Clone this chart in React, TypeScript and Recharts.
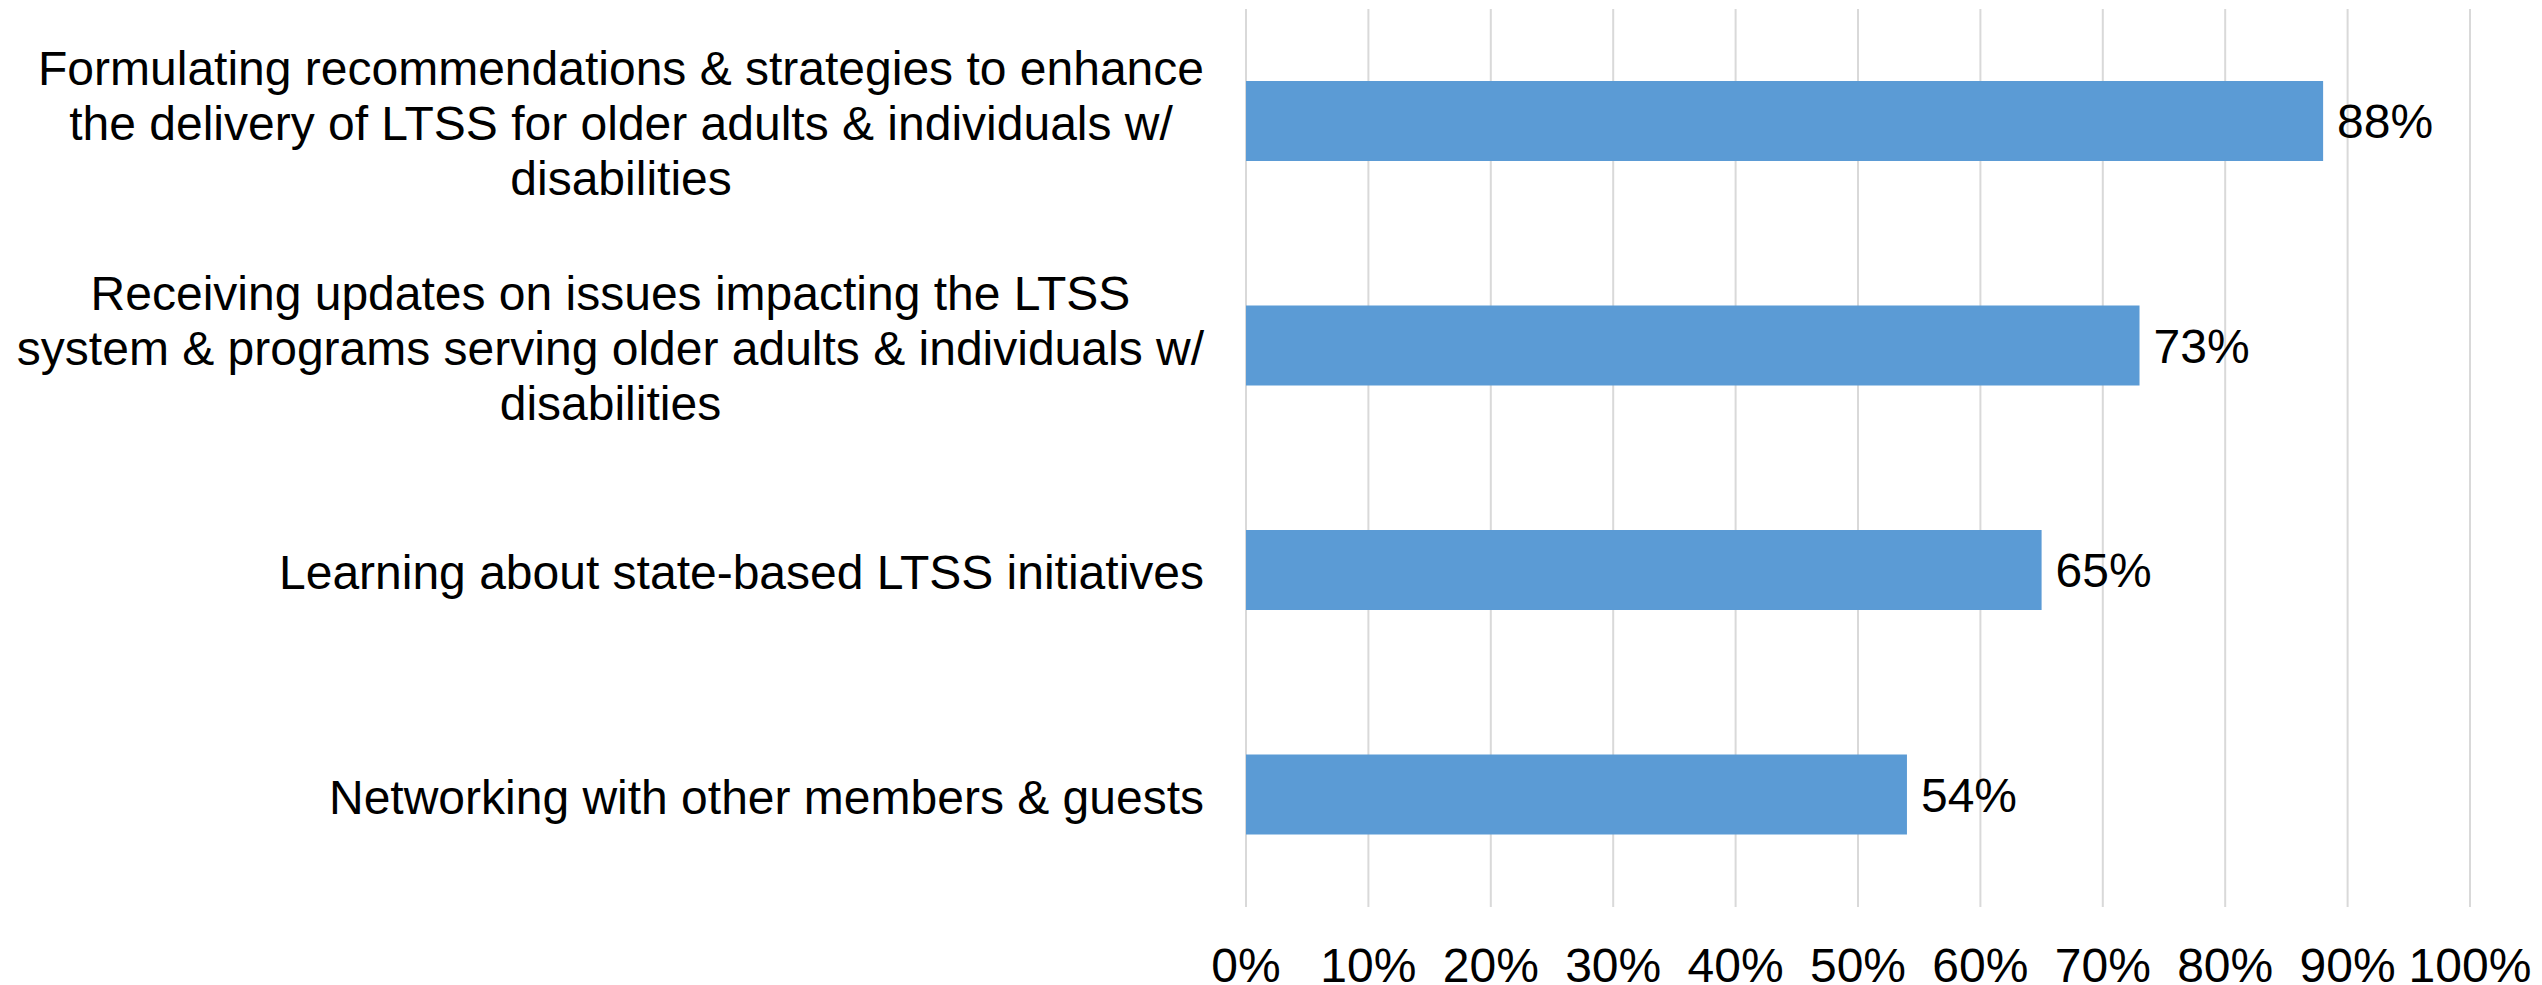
import React from "react";
import { BarChart, Bar, XAxis, YAxis, CartesianGrid, LabelList } from "recharts";

const categories: string[][] = [
  [
    "Formulating recommendations & strategies to enhance",
    "the delivery of LTSS for older adults & individuals w/",
    "disabilities",
  ],
  [
    "Receiving updates on issues impacting the LTSS",
    "system & programs serving older adults & individuals w/",
    "disabilities",
  ],
  ["Learning about state-based LTSS initiatives"],
  ["Networking with other members & guests"],
];
const values: number[] = [88, 73, 65, 54];
const xTicks: number[] = [0, 10, 20, 30, 40, 50, 60, 70, 80, 90, 100];

const data = categories.map((lines, i) => ({
  label: lines.join(" "),
  lines,
  value: values[i],
}));

const FONT = "'Liberation Sans', Arial, Helvetica, sans-serif";
const FS = 48;
const LINE_H = 55;

let ctx: CanvasRenderingContext2D | null = null;
function measure(t: string): number {
  if (!ctx) {
    const c = document.createElement("canvas");
    ctx = c.getContext("2d");
  }
  if (!ctx) return t.length * FS * 0.5;
  ctx.font = `${FS}px ${FONT}`;
  return ctx.measureText(t).width;
}

const YTick = (props: any) => {
  const { x, y, payload } = props;
  const item = data.find((d) => d.label === payload.value);
  const lines = item ? item.lines : [String(payload.value)];
  const right = x - 42;
  const maxW = Math.max(...lines.map(measure));
  const cx = right - maxW / 2;
  const n = lines.length;
  return (
    <g>
      {lines.map((ln, i) => (
        <text
          key={i}
          x={cx}
          y={y + (i - (n - 1) / 2) * LINE_H + 19}
          textAnchor="middle"
          fontSize={FS}
          fontFamily={FONT}
          fill="#000"
        >
          {ln}
        </text>
      ))}
    </g>
  );
};

const XTick = (props: any) => {
  const { x, y, payload } = props;
  return (
    <text x={x} y={y + 75} textAnchor="middle" fontSize={FS} fontFamily={FONT} fill="#000">
      {`${payload.value}%`}
    </text>
  );
};

export default function App() {
  return (
    <div style={{ position: "absolute", left: 0, top: 0, width: 2542, height: 985, background: "#fff" }}>
      <BarChart
        width={2542}
        height={985}
        data={data}
        layout="vertical"
        margin={{ top: 9, right: 72, bottom: 0, left: 0 }}
      >
        <CartesianGrid horizontal={false} vertical={true} stroke="#D9D9D9" strokeWidth={2} />
        <XAxis
          type="number"
          domain={[0, 100]}
          ticks={xTicks}
          interval={0}
          axisLine={false}
          tickLine={false}
          tickSize={0}
          tickMargin={0}
          height={78}
          tick={<XTick />}
        />
        <YAxis
          type="category"
          dataKey="label"
          width={1246}
          axisLine={false}
          tickLine={false}
          tickSize={0}
          tickMargin={0}
          interval={0}
          tick={<YTick />}
        />
        <Bar dataKey="value" fill="#5B9BD5" barSize={80} isAnimationActive={false}>
          <LabelList
            dataKey="value"
            position="right"
            offset={14}
            formatter={(v: any) => `${v}%`}
            style={{ fontSize: FS, fontFamily: FONT, fill: "#000" }}
          />
        </Bar>
      </BarChart>
    </div>
  );
}
